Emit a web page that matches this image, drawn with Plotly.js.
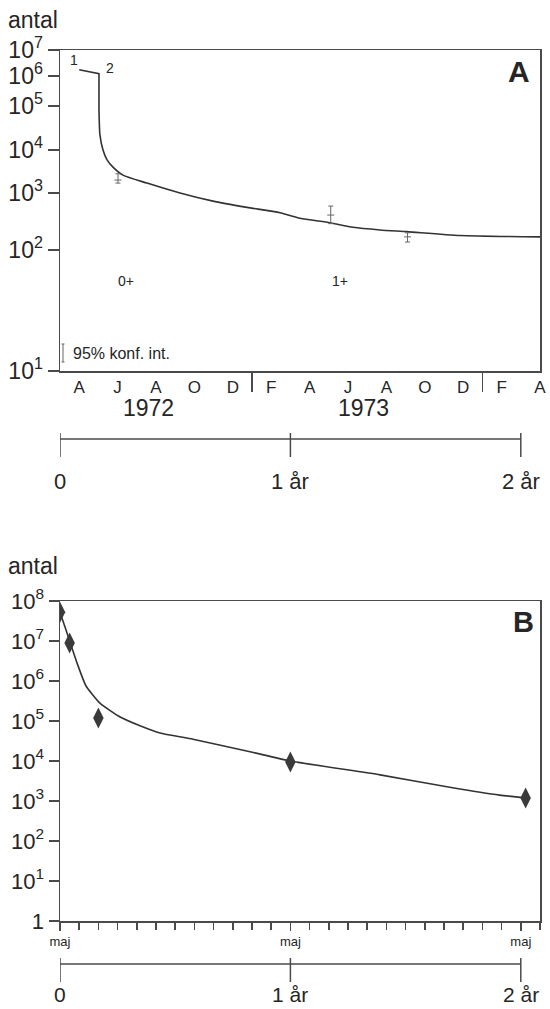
<!DOCTYPE html>
<html><head><meta charset="utf-8">
<script src="https://cdn.plot.ly/plotly-3.0.1.min.js"></script>
<style>html,body{margin:0;padding:0;background:#fff}</style>
</head><body><div id="chart" style="width:550px;height:1009px"></div>
<script>
// ---------- Panel A data (months after 1 March 1972) ----------
const aDropMonths = [1.0, 2.03, 2.03];
const aDropValues = [1.74e6, 1.23e6, 8.1e4];
const aCurveMonths = [2.03, 2.08, 2.24, 2.45, 2.76, 3.28, 4.53, 6.25, 7.97, 9.74, 11.46, 12.5, 14.06, 15.26, 16.67, 18.07, 20.83, 25];
const aCurveValues = [8.1e4, 2.2e4, 1.0e4, 5.9e3, 4.0e3, 2.6e3, 1.7e3, 1000, 720, 560, 450, 360, 300, 250, 225, 210, 180, 170];
const aPointMonths = [1.0, 2.03];
const aPointValues = [1.74e6, 1.23e6];
const aPointLabels = ['1', '2'];
const aCiMonths = [3.02, 14.1, 18.1];
const aCiMid = [2000, 410, 170];
const aCiHigh = [2800, 590, 200];
const aCiLow = [1700, 290, 138];
const aMonthTicks = [1, 3, 5, 7, 9, 11, 13, 15, 17, 19, 21, 23, 25];
const aMonthLabels = ['A', 'J', 'A', 'O', 'D', 'F', 'A', 'J', 'A', 'O', 'D', 'F', 'A'];
const aYearDividers = [10, 22];
const aYearLabels = ['1972', '1973'];
const aYearPos = [4.6, 15.8];
const aCohortLabels = ['0+', '1+'];
const aCohortPos = [3.44, 14.6];
const aDecades = [1, 2, 3, 4, 5, 6, 7];
// the original A axis is not uniformly logarithmic: height of each decade on that axis
const aDecadeHeight = [0, 121, 178, 221, 265, 295, 321];

// ---------- Panel B data ----------
const bCurveMonths = [0, 0.31, 0.89, 1.35, 2.08, 3.13, 4.17, 5.21, 6.93, 9.9, 12, 16.67, 20.3, 22.9, 24.25];
const bCurveValues = [5.2e7, 1.9e7, 2.8e6, 7.6e5, 2.8e5, 1.26e5, 7.6e4, 5.0e4, 3.5e4, 1.7e4, 1.0e4, 4.5e3, 2.2e3, 1.4e3, 1.2e3];
const bObsMonths = [0, 0.5, 2, 12, 24.25];
const bObsValues = [5.2e7, 8.9e6, 1.19e5, 9.4e3, 1.19e3];
const bMonthTicks = [0,1,2,3,4,5,6,7,8,9,10,11,12,13,14,15,16,17,18,19,20,21,22,23,24,25];
const bLabelTicks = [0, 12, 24];
const bLabelText = ['maj', 'maj', 'maj'];
const bDecadeVals = [1, 10, 100, 1e3, 1e4, 1e5, 1e6, 1e7, 1e8];
const bDecadeLabels = ['1', '10<sup>1</sup>', '10<sup>2</sup>', '10<sup>3</sup>', '10<sup>4</sup>', '10<sup>5</sup>', '10<sup>6</sup>', '10<sup>7</sup>', '10<sup>8</sup>'];

// ---------- shared ----------
const ageTicks = [0, 12, 24];
const ageLabels = ['0', '1 år', '2 år'];

function aScale(v) {
  const L = Math.log10(v);
  for (let i = 0; i < aDecades.length - 1; i++) {
    if (L <= aDecades[i + 1] || i === aDecades.length - 2) {
      const t = (L - aDecades[i]) / (aDecades[i + 1] - aDecades[i]);
      return aDecadeHeight[i] + t * (aDecadeHeight[i + 1] - aDecadeHeight[i]);
    }
  }
}

const W = 550, H = 1009;
const py = p => 1 - p / H;
const px = p => p / W;
const FONT = 'Liberation Sans, Arial, sans-serif';
const INK = '#262626';
const AX = '#4a4a4a';

const traces = [
  { x: aDropMonths, y: aDropValues.map(aScale), xaxis: 'x', yaxis: 'y', mode: 'lines',
    line: { color: '#333', width: 1.6 }, hoverinfo: 'skip' },
  { x: aCurveMonths, y: aCurveValues.map(aScale), xaxis: 'x', yaxis: 'y', mode: 'lines',
    line: { color: '#333', width: 1.6, shape: 'spline', smoothing: 0.6 }, hoverinfo: 'skip' },
  { x: aCiMonths, y: aCiMid.map(aScale), xaxis: 'x', yaxis: 'y', mode: 'markers',
    marker: { symbol: 'line-ew', size: 5, line: { color: '#666', width: 1 } },
    error_y: { type: 'data', symmetric: false,
      array: aCiHigh.map((v, i) => aScale(v) - aScale(aCiMid[i])),
      arrayminus: aCiLow.map((v, i) => aScale(aCiMid[i]) - aScale(v)),
      color: '#666', thickness: 1, width: 2.5 }, hoverinfo: 'skip' },
  { x: bCurveMonths, y: bCurveValues, xaxis: 'x2', yaxis: 'y2', mode: 'lines',
    line: { color: '#333', width: 1.6, shape: 'spline', smoothing: 0.5 }, hoverinfo: 'skip' },
  { x: bObsMonths, y: bObsValues, xaxis: 'x2', yaxis: 'y2', mode: 'markers',
    marker: { symbol: 'diamond-tall', size: 15, color: '#3a3a3a' }, hoverinfo: 'skip' },
  // invisible anchors so the overlay tick axes are drawn
  { x: [0], y: [0], xaxis: 'x3', yaxis: 'y', mode: 'markers', marker: { opacity: 0 }, hoverinfo: 'skip' },
  { x: [0], y: [1], xaxis: 'x4', yaxis: 'y2', mode: 'markers', marker: { opacity: 0 }, hoverinfo: 'skip' }
];

const xDom = [px(60), px(540)];
const axCommon = { showgrid: false, zeroline: false, showline: true, linecolor: AX, linewidth: 1.5,
  mirror: true, tickcolor: AX, tickwidth: 1.5, fixedrange: true };

const annotations = [];
const shapes = [];
const txt = (size) => ({ size: size, color: INK, family: FONT });

// panel A texts
annotations.push({ text: 'antal', xref: 'paper', yref: 'paper', x: px(6), y: py(20), xanchor: 'left', yanchor: 'middle', showarrow: false, font: txt(23) });
annotations.push({ text: '<b>A</b>', xref: 'paper', yref: 'paper', x: px(519), y: py(71), xanchor: 'center', yanchor: 'middle', showarrow: false, font: txt(30) });
aPointLabels.forEach((t, i) => annotations.push({ text: t, xref: 'x', yref: 'y', x: aPointMonths[i], y: aScale(aPointValues[i]), showarrow: false,
  xshift: i === 0 ? -5 : 11, yshift: i === 0 ? 10 : 6, font: txt(14) }));
aCohortLabels.forEach((t, i) => annotations.push({ text: t, xref: 'x', yref: 'paper', x: aCohortPos[i], y: py(271), showarrow: false, font: txt(14) }));
aYearLabels.forEach((t, i) => annotations.push({ text: t, xref: 'x', yref: 'paper', x: aYearPos[i], y: py(408), showarrow: false, font: txt(23) }));
annotations.push({ text: '95% konf. int.', xref: 'paper', yref: 'paper', x: px(71), y: py(353), xanchor: 'left', yanchor: 'middle', showarrow: false, font: txt(16) });
// legend key (I-bar)
shapes.push({ type: 'line', xref: 'paper', yref: 'paper', x0: px(63), x1: px(63), y0: py(344), y1: py(362), line: { color: '#666', width: 1 } });
shapes.push({ type: 'line', xref: 'paper', yref: 'paper', x0: px(61.5), x1: px(64.5), y0: py(344), y1: py(344), line: { color: '#666', width: 1 } });
shapes.push({ type: 'line', xref: 'paper', yref: 'paper', x0: px(61.5), x1: px(64.5), y0: py(362), y1: py(362), line: { color: '#666', width: 1 } });

function timeline(xref, yLine, yTop, yBot, yLabBottom, size) {
  shapes.push({ type: 'line', xref: xref, yref: 'paper', x0: ageTicks[0], x1: ageTicks[ageTicks.length - 1], y0: py(yLine), y1: py(yLine), line: { color: AX, width: 1.5 } });
  ageTicks.forEach((m, i) => {
    shapes.push({ type: 'line', xref: xref, yref: 'paper', x0: m, x1: m, y0: py(yTop), y1: py(yBot), line: { color: AX, width: 1.5 } });
    annotations.push({ text: ageLabels[i], xref: xref, yref: 'paper', x: m, y: py(yLabBottom), yanchor: 'bottom', showarrow: false, font: txt(size) });
  });
}
timeline('x', 439, 433, 457, 496, 22);

// panel B texts
annotations.push({ text: 'antal', xref: 'paper', yref: 'paper', x: px(6), y: py(566), xanchor: 'left', yanchor: 'middle', showarrow: false, font: txt(23) });
annotations.push({ text: '<b>B</b>', xref: 'paper', yref: 'paper', x: px(523), y: py(622), xanchor: 'center', yanchor: 'middle', showarrow: false, font: txt(29) });
timeline('x2', 964, 958, 982, 1008, 21);

const layout = {
  width: W, height: H, margin: { l: 0, r: 0, t: 0, b: 0 },
  paper_bgcolor: '#fff', plot_bgcolor: '#fff', showlegend: false,
  font: { family: FONT, color: INK },
  xaxis: Object.assign({}, axCommon, { domain: xDom, anchor: 'y', range: [0, 25],
    tickmode: 'array', tickvals: aMonthTicks, ticktext: aMonthLabels, ticks: '', ticklen: 0,
    tickfont: txt(17) }),
  xaxis3: { overlaying: 'x', anchor: 'y', domain: xDom, range: [0, 25], showgrid: false, zeroline: false,
    showline: false, tickmode: 'array', tickvals: aYearDividers, ticks: 'outside', ticklen: 20, tickwidth: 1.5,
    tickcolor: AX, showticklabels: false, fixedrange: true },
  yaxis: Object.assign({}, axCommon, { domain: [py(371), py(50)], anchor: 'x', range: [0, aDecadeHeight[aDecadeHeight.length - 1]],
    tickmode: 'array', tickvals: aDecades.map(d => aScale(Math.pow(10, d))),
    ticktext: aDecades.map(d => '10<sup>' + d + '</sup>'), ticks: 'outside', ticklen: 11,
    tickfont: txt(23) }),
  xaxis2: Object.assign({}, axCommon, { domain: xDom, anchor: 'y2', range: [0, 25],
    tickmode: 'array', tickvals: bLabelTicks, ticktext: bLabelText, ticks: 'outside', ticklen: 8,
    tickfont: txt(13) }),
  xaxis4: { overlaying: 'x2', anchor: 'y2', domain: xDom, range: [0, 25], showgrid: false, zeroline: false,
    showline: false, tickmode: 'array', tickvals: bMonthTicks, ticks: 'outside', ticklen: 8, tickwidth: 1.5,
    tickcolor: AX, showticklabels: false, fixedrange: true },
  yaxis2: Object.assign({}, axCommon, { domain: [py(921), py(601)], anchor: 'x2', type: 'log', range: [0, 8],
    tickmode: 'array', tickvals: bDecadeVals, ticktext: bDecadeLabels, ticks: 'outside', ticklen: 10,
    tickfont: txt(22) }),
  annotations: annotations,
  shapes: shapes
};

Plotly.newPlot('chart', traces, layout, { staticPlot: true, displayModeBar: false });
</script></body></html>
